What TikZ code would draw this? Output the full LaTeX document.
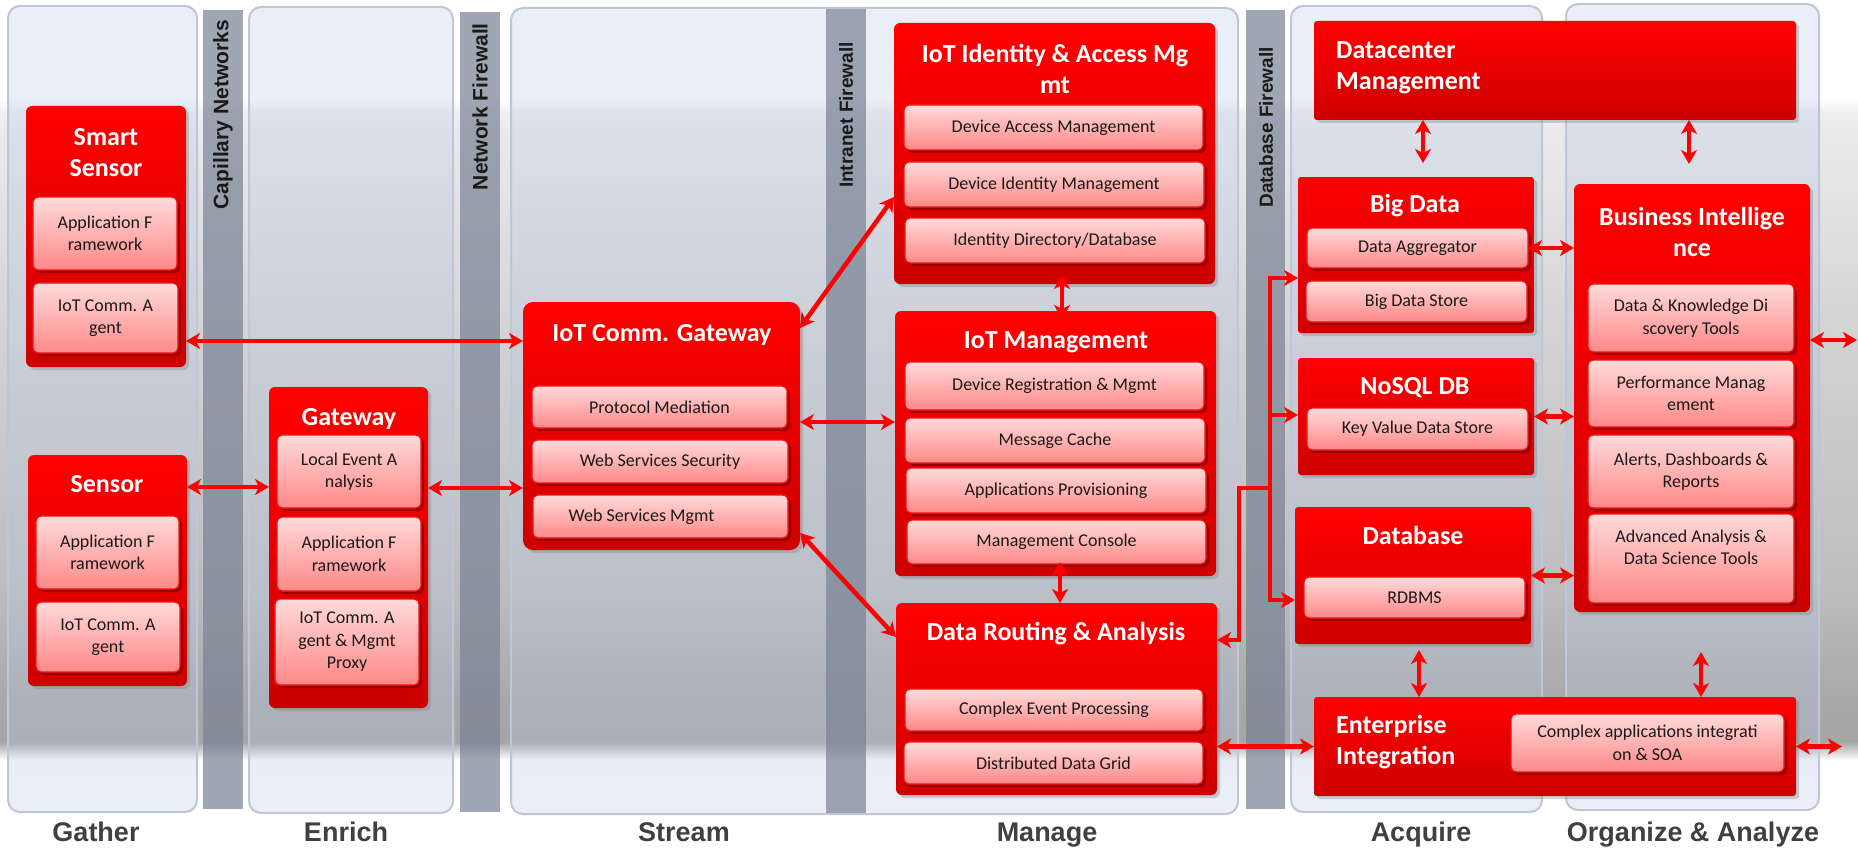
\documentclass[tikz,border=0pt]{standalone}
\usepackage{fontspec}
\setmainfont{Carlito}
\newfontfamily\labfont{Liberation Sans}
\usetikzlibrary{arrows.meta,shadows,calc}
\definecolor{bred}{RGB}{255,0,0}
\definecolor{dred}{RGB}{206,0,0}
\definecolor{pinktop}{RGB}{255,218,218}
\definecolor{pinkbot}{RGB}{255,136,136}
\definecolor{inedge}{RGB}{240,20,20}
\definecolor{colfill}{RGB}{182,198,228}
\definecolor{coledge}{RGB}{190,199,214}
\definecolor{barfill}{RGB}{120,130,148}
\definecolor{labgray}{RGB}{64,64,64}
\definecolor{txt}{RGB}{26,26,26}
\pgfdeclareverticalshading{band}{100bp}{color(0bp)=(white); color(25bp)=(white); color(25.75bp)=(white); color(27.1bp)=(black!35); color(30.2bp)=(black!34); color(38.4bp)=(black!26); color(56bp)=(black!18); color(72.8bp)=(black!8); color(74.1bp)=(black!6); color(75bp)=(white); color(100bp)=(white)}
\tikzset{
  pos/.style n args={4}{at={({(#1+#3)/2},{(#2+#4)/2})}, minimum width={(#3-#1)*1pt}, minimum height={(#4-#2)*1pt}},
  rtip/.tip={Stealth[length=14pt,width=16pt,inset=4pt]},
  link/.style={draw=bred, line width=4.5pt, rtip-rtip},
  linkend/.style={draw=bred, line width=4.5pt, -rtip},
  linkstart/.style={draw=bred, line width=4.5pt, rtip-},
  redbox/.style={rectangle, rounded corners=6pt, inner sep=0pt, outer sep=0pt, top color=bred, bottom color=dred, draw=none, drop shadow={opacity=0.35, shadow xshift=3pt, shadow yshift=-3pt}},
  inbox/.style={rectangle, rounded corners=5pt, inner sep=0pt, outer sep=0pt, top color=pinktop, bottom color=pinkbot, draw=inedge, line width=1.2pt, drop shadow={opacity=0.6, fill=black!55!red, shadow xshift=3pt, shadow yshift=-3pt}, font=\fontsize{18}{22.5}\selectfont, text=txt, align=center},
  title/.style={font=\fontsize{26}{31}\selectfont\bfseries, text=white, align=center, inner sep=0pt},
  column/.style={rectangle, rounded corners=12pt, inner sep=0pt, draw=coledge, line width=2pt, fill=colfill, fill opacity=0.3},
  bar/.style={rectangle, inner sep=0pt, fill=barfill, fill opacity=0.7, draw=none},
  barlab/.style={font=\labfont\bfseries\fontsize{21}{25}\selectfont, text=txt, rotate=90, anchor=east, inner sep=0pt},
  collab/.style={font=\labfont\bfseries\fontsize{27}{32}\selectfont, text=labgray, anchor=base, inner sep=0pt},
}
\begin{document}
\begin{tikzpicture}[x=1pt,y=-1pt]
\useasboundingbox (0,0) rectangle (1858,848);
% background band
\shade[shading=band] (0,100) rectangle (1858,770);
% columns
\node[column, pos={8}{6}{197}{812}] (colG) {};
\node[column, pos={249}{7}{453}{813}] (colE) {};
\node[column, pos={511}{8}{1238}{814}] (colSM) {};
\node[column, pos={1291}{6}{1542}{812}] (colA) {};
\node[column, pos={1566}{4}{1819}{810}] (colO) {};
% bars
\node[bar, pos={203}{10}{243}{809}] (barCap) {};
\node[bar, pos={460}{12}{500}{812}] (barNet) {};
\node[bar, pos={826}{9}{866}{813}] (barIntra) {};
\node[bar, pos={1246}{10}{1285}{809}] (barDB) {};
\node[barlab] (lCap) at (223,20) {Capillary Networks};
\node[barlab] (lNet) at (480,23) {Network Firewall};
\node[barlab, font=\labfont\bfseries\fontsize{19}{23}\selectfont] (lIntra) at (846,42) {Intranet Firewall};
\node[barlab, font=\labfont\bfseries\fontsize{19}{23}\selectfont] (lDB) at (1266,47) {Database Firewall};
% column labels
\node[collab] (tG) at (96,841) {Gather};
\node[collab] (tE) at (346,841) {Enrich};
\node[collab] (tS) at (684,841) {Stream};
\node[collab] (tM) at (1047,841) {Manage};
\node[collab] (tA) at (1421,841) {Acquire};
\node[collab] (tO) at (1693,841) {Organize \& Analyze};
% outer boxes
\node[redbox, pos={26}{106}{186}{367}] (ss) {};
\node[redbox, pos={28}{455}{187}{686}] (sensor) {};
\node[redbox, pos={269}{387}{428}{708}] (gw) {};
\node[redbox, pos={523}{302}{800}{550}, rounded corners=10pt] (icg) {};
\node[redbox, pos={894}{23}{1215}{284}] (iam) {};
\node[redbox, pos={895}{311}{1216}{576}] (im) {};
\node[redbox, pos={896}{603}{1217}{795}] (dra) {};
\node[redbox, pos={1314}{21}{1796}{120}, rounded corners=3pt] (dcm) {};
\node[redbox, pos={1298}{177}{1534}{333}, rounded corners=3pt] (bd) {};
\node[redbox, pos={1298}{358}{1534}{475}, rounded corners=3pt] (nosql) {};
\node[redbox, pos={1295}{507}{1531}{644}, rounded corners=3pt] (db) {};
\node[redbox, pos={1314}{697}{1796}{796}, rounded corners=3pt] (ei) {};
\node[redbox, pos={1574}{184}{1810}{612}] (bi) {};
% inner boxes
\node[inbox, pos={33}{197}{177}{270}] (ss1) {Application F\\ramework};
\node[inbox, pos={33}{283}{178}{353}] (ss2) {IoT Comm. A\\gent};
\node[inbox, pos={36}{516}{179}{589}] (se1) {Application F\\ramework};
\node[inbox, pos={36}{602}{180}{672}] (se2) {IoT Comm. A\\gent};
\node[inbox, pos={277}{435}{421}{508}] (gw1) {Local Event A\\nalysis};
\node[inbox, pos={277}{517}{421}{591}] (gw2) {Application F\\ramework};
\node[inbox, pos={275}{599}{419}{685}] (gw3) {IoT Comm. A\\gent \& Mgmt\\Proxy};
\node[inbox, pos={532}{386}{787}{428}] (icg1) {Protocol Mediation};
\node[inbox, pos={532}{440}{788}{483}] (icg2) {Web Services Security};
\node[inbox, pos={533}{495}{788}{538}] (icg3) {Web Services Mgmt\hspace*{38pt}};
\node[inbox, pos={904}{105}{1203}{150}] (iam1) {Device Access Management};
\node[inbox, pos={904}{162}{1204}{207}] (iam2) {Device Identity Management};
\node[inbox, pos={905}{218}{1205}{263}] (iam3) {Identity Directory/Database};
\node[inbox, pos={905}{362}{1204}{410}] (im1) {Device Registration \& Mgmt};
\node[inbox, pos={905}{418}{1205}{463}] (im2) {Message Cache};
\node[inbox, pos={906}{468}{1206}{513}] (im3) {Applications Provisioning};
\node[inbox, pos={907}{520}{1206}{564}] (im4) {Management Console};
\node[inbox, pos={905}{689}{1203}{731}] (dra1) {Complex Event Processing};
\node[inbox, pos={904}{742}{1203}{784}] (dra2) {Distributed Data Grid};
\node[inbox, pos={1307}{228}{1528}{268}] (bd1) {Data Aggregator};
\node[inbox, pos={1306}{281}{1527}{322}] (bd2) {Big Data Store};
\node[inbox, pos={1307}{408}{1528}{450}] (kv) {Key Value Data Store};
\node[inbox, pos={1304}{577}{1525}{618}] (rdb) {RDBMS};
\node[inbox, pos={1511}{714}{1784}{772}] (ei1) {Complex applications integrati\\on \& SOA};
\node[inbox, pos={1588}{284}{1794}{352}] (bi1) {Data \& Knowledge Di\\scovery Tools};
\node[inbox, pos={1588}{360}{1794}{427}] (bi2) {Performance Manag\\ement};
\node[inbox, pos={1588}{435}{1794}{508}] (bi3) {Alerts, Dashboards \&\\Reports};
\node[inbox, pos={1588}{514}{1794}{603}] (bi4) {Advanced Analysis \&\\Data Science Tools\\\mbox{}};
% titles
\node[title] (ss-t) at (106,153) {Smart\\Sensor};
\node[title, anchor=base] (se-t) at (107,492.5) {Sensor};
\node[title, anchor=base] (gw-t) at (349,425.5) {Gateway};
\node[title, anchor=base] (icg-t) at (662,341.5) {IoT Comm. Gateway};
\node[title] (iam-t) at (1055,69) {IoT Identity \& Access Mg\\mt};
\node[title, anchor=base] (im-t) at (1056,348.5) {IoT Management};
\node[title, anchor=base] (dra-t) at (1056,640.5) {Data Routing \& Analysis};
\node[title, anchor=west, align=left] (dcm-t) at (1336,68) {Datacenter\\Management};
\node[title, anchor=base] (bd-t) at (1415,212.5) {Big Data};
\node[title, anchor=base] (nosql-t) at (1415,394.5) {NoSQL DB};
\node[title, anchor=base] (db-t) at (1413,544.5) {Database};
\node[title, anchor=west, align=left] (ei-t) at (1336,742) {Enterprise\\Integration};
\node[title] (bi-t) at (1692,232) {Business Intellige\\nce};
% connectors
\coordinate (a1) at ([yshift=-104.5pt]ss.east);
\draw[link] (a1) -- (a1 -| icg.west);
\coordinate (a2) at ([yshift=83.5pt]sensor.east);
\draw[link] (a2) -- (a2 -| gw.west);
\coordinate (a3) at ([yshift=59.5pt]gw.east);
\draw[link] (a3) -- (a3 -| icg.west);
\draw[link] ([yshift=98pt]icg.east) -- ([yshift=-43.5pt]iam.west);
\coordinate (a5) at ([yshift=4pt]icg.east);
\draw[link] (a5) -- (a5 -| im.west);
\draw[link] ([yshift=-107pt]icg.east) -- ([yshift=62pt]dra.west);
\coordinate (a7) at ([xshift=7.5pt]iam.south);
\draw[link, shorten <=-9pt, shorten >=-8pt] (a7) -- (a7 |- im.north);
\coordinate (a8) at ([xshift=4.5pt]im.south);
\draw[link, shorten <=-14pt] (a8) -- (a8 |- dra.north);
\coordinate (a9) at ([yshift=59pt]dra.east);
\coordinate (jK) at (1239,488);
\coordinate (jM) at (1270,488);
\coordinate (jT) at (1270,278);
\coordinate (jN) at (1270,415);
\coordinate (jB) at (1270,600);
\draw[linkstart] (a9) -| (jK) -- (jM);
\draw[link] (jT -| bd.west) -- (jT) -- (jB) -- (jB -| db.west);
\draw[linkend] (jN) -- (jN -| nosql.west);
\draw[link] (ei.west -| dra.east) -- (ei.west);
\coordinate (a11) at ([xshift=7pt]bd.north);
\draw[link, shorten >=14pt] (a11 |- dcm.south) -- (a11);
\coordinate (a12) at ([xshift=-3pt]bi.north);
\draw[link, shorten >=20pt] (a12 |- dcm.south) -- (a12);
\draw[link] (bd1.east) -- (bd1.east -| bi.west);
\draw[link] (nosql.east) -- (nosql.east -| bi.west);
\draw[link] (db.east) -- (db.east -| bi.west);
\coordinate (a16) at ([xshift=6pt]db.south);
\draw[link, shorten <=6pt] (a16) -- (a16 |- ei.north);
\coordinate (a17) at ([xshift=9pt]bi.south);
\draw[link, shorten <=40pt] (a17) -- (a17 |- ei.north);
\coordinate (a18) at ([yshift=58pt]bi.east);
\coordinate (o18) at (1857,340);
\draw[link] (a18) -- (o18);
\coordinate (o19) at (1842,746.5);
\draw[link] (ei.east) -- (o19);
\end{tikzpicture}
\end{document}
